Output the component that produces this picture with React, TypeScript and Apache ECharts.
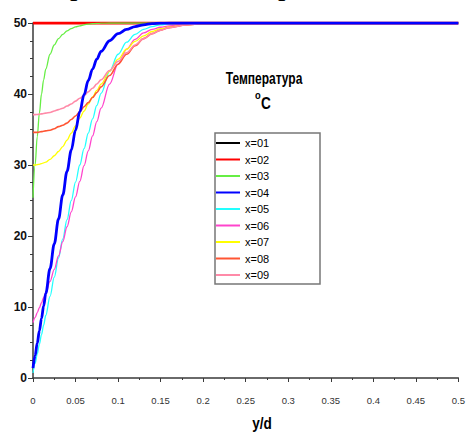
import React, { useEffect, useRef } from "react";
import * as echarts from "echarts";

// y/d positions (shared by the profile curves)
const yd = [0, 0.0025, 0.005, 0.0075, 0.01, 0.0125, 0.015, 0.02, 0.025, 0.03, 0.035, 0.04, 0.045, 0.05, 0.055, 0.06, 0.065, 0.07, 0.075, 0.08, 0.09, 0.1, 0.11, 0.12, 0.13, 0.14, 0.15, 0.16, 0.18, 0.2, 0.25, 0.3, 0.35, 0.4, 0.45, 0.5];
const flatYd = [0, 0.5];

const seriesNames = ["x=01", "x=02", "x=03", "x=04", "x=05", "x=06", "x=07", "x=08", "x=09"];

const x01 = [50, 50];
const x02 = [50, 50];
const x03 = [25.4, 30, 34, 37.3, 40, 42, 43.5, 45.6, 46.9, 47.8, 48.4, 48.9, 49.2, 49.45, 49.6, 49.75, 49.85, 49.9, 49.95, 49.97, 50, 50, 50, 50, 50, 50, 50, 50, 50, 50, 50, 50, 50, 50, 50, 50];
const x04 = [1.4, 3.15, 4.9, 6.65, 8.4, 10.15, 11.9, 15.4, 18.9, 22.4, 25.8, 29.1, 32.1, 34.9, 37.5, 39.9, 41.9, 43.5, 44.9, 46.0, 47.5, 48.5, 49.1, 49.5, 49.75, 49.9, 49.97, 50, 50, 50, 50, 50, 50, 50, 50, 50];
const x05 = [0.7, 2.05, 3.4, 4.75, 6.1, 7.45, 8.8, 11.5, 14.2, 16.9, 19.6, 22.3, 25.0, 27.6, 30.0, 32.3, 34.5, 36.5, 38.4, 40.1, 43.2, 45.6, 47.3, 48.4, 49.1, 49.5, 49.75, 49.9, 49.98, 50, 50, 50, 50, 50, 50, 50];
const x06 = [7.8, 8.5, 9.2, 9.9, 10.6, 11.3, 12.0, 13.6, 15.3, 17.2, 19.2, 21.3, 23.4, 25.5, 27.7, 29.9, 32.0, 34.1, 36.1, 38.0, 41.4, 44.2, 46.3, 47.7, 48.6, 49.1, 49.4, 49.6, 49.85, 49.95, 50, 50, 50, 50, 50, 50];
const x07 = [30.0, 30.0, 30.05, 30.1, 30.2, 30.3, 30.4, 30.8, 31.3, 31.9, 32.6, 33.5, 34.5, 35.5, 36.6, 37.6, 38.6, 39.6, 40.5, 41.4, 43.2, 44.9, 46.3, 47.4, 48.2, 48.8, 49.2, 49.45, 49.75, 49.93, 50, 50, 50, 50, 50, 50];
const x08 = [34.6, 34.6, 34.6, 34.65, 34.7, 34.75, 34.8, 34.9, 35.1, 35.4, 35.6, 35.9, 36.4, 36.9, 37.5, 38.2, 38.8, 39.5, 40.2, 41.0, 42.6, 44.2, 45.6, 46.8, 47.8, 48.5, 49.0, 49.35, 49.72, 49.92, 50, 50, 50, 50, 50, 50];
const x09 = [37.1, 37.1, 37.12, 37.15, 37.2, 37.25, 37.3, 37.4, 37.6, 37.8, 38.0, 38.3, 38.6, 39.0, 39.4, 39.8, 40.3, 40.8, 41.4, 42.0, 43.3, 44.6, 45.8, 46.9, 47.8, 48.5, 49.0, 49.35, 49.72, 49.92, 50, 50, 50, 50, 50, 50];

const seriesValues = [x01, x02, x03, x04, x05, x06, x07, x08, x09];
const colors = ["#000000", "#ff0000", "#66ee44", "#0000ff", "#22ffff", "#ff44cc", "#ffff00", "#ff5533", "#ff8aa8"];
const widths = [1.2, 3, 1.3, 2.8, 1.3, 1.3, 1.3, 1.6, 1.6];

const sans = "'Liberation Sans', Arial, sans-serif";

export default function App() {
  const ref = useRef<HTMLDivElement>(null);
  useEffect(() => {
    if (!ref.current) return;
    const chart = echarts.init(ref.current, null, { renderer: "svg" });
    const series = seriesValues.map((vals, i) => {
      const xs = vals.length === 2 ? flatYd : yd;
      return {
        name: seriesNames[i],
        type: "line",
        data: vals.map((v, k) => [xs[k], v]),
        symbol: "none",
        smooth: 0.35,
        smoothMonotone: "x",
        z: i === 3 ? 5 : 3,
        lineStyle: { color: colors[i], width: widths[i] },
        itemStyle: { color: colors[i] },
      };
    });
    chart.setOption({
      animation: false,
      backgroundColor: "#ffffff",
      color: colors,
      grid: { left: 33, right: 8, top: 23, bottom: 57 },
      xAxis: {
        type: "value",
        min: 0,
        max: 0.5,
        interval: 0.05,
        splitLine: { show: false },
        axisLine: { show: true, onZero: false, lineStyle: { color: "#3a3a3a", width: 1.5 } },
        axisTick: { show: true, inside: false, length: 4, lineStyle: { color: "#3a3a3a" } },
        minorTick: { show: true, splitNumber: 2, length: 2, lineStyle: { color: "#3a3a3a" } },
        axisLabel: { margin: 17, fontSize: 9.5, color: "#333", fontFamily: sans },
      },
      yAxis: {
        type: "value",
        min: 0,
        max: 50,
        interval: 10,
        splitLine: { show: false },
        axisLine: { show: true, lineStyle: { color: "#3a3a3a", width: 1.5 } },
        axisTick: { show: true, inside: false, length: 5, lineStyle: { color: "#3a3a3a" } },
        minorTick: { show: true, splitNumber: 4, length: 3, lineStyle: { color: "#3a3a3a" } },
        axisLabel: { margin: 6, fontSize: 12, fontWeight: "bold", color: "#111", fontFamily: sans },
      },
      legend: {
        orient: "vertical",
        left: 216,
        top: 137,
        padding: 0,
        icon: "rect",
        itemWidth: 24,
        itemHeight: 2,
        itemGap: 4.5,
        data: seriesNames,
        textStyle: { fontSize: 11, lineHeight: 12, color: "#000", fontFamily: sans },
      },
      graphic: [
        {
          type: "text",
          x: 70,
          y: -15.5,
          silent: true,
          style: { text: "р", fontSize: 30, fontFamily: "'Liberation Serif', serif", fill: "#000", align: "left", verticalAlign: "middle" },
        },
        {
          type: "text",
          x: 278,
          y: -15.5,
          silent: true,
          style: { text: "р", fontSize: 30, fontFamily: "'Liberation Serif', serif", fill: "#000", align: "left", verticalAlign: "middle" },
        },
        {
          type: "rect",
          z: -1,
          shape: { x: 215, y: 133, width: 105, height: 151 },
          style: { fill: "#ffffff", stroke: "#777", lineWidth: 1.5 },
        },
        {
          type: "text",
          x: 264,
          y: 78,
          scaleX: 0.75,
          style: { text: "Температура", fontSize: 16, fontWeight: "bold", fontFamily: sans, fill: "#000", align: "center", verticalAlign: "middle" },
        },
        {
          type: "text",
          x: 255,
          y: 95,
          scaleX: 0.85,
          style: { text: "o", fontSize: 11, fontWeight: "bold", fontFamily: sans, fill: "#000", align: "left", verticalAlign: "middle" },
        },
        {
          type: "text",
          x: 261,
          y: 104,
          scaleX: 0.85,
          style: { text: "C", fontSize: 16, fontWeight: "bold", fontFamily: sans, fill: "#000", align: "left", verticalAlign: "middle" },
        },
        {
          type: "text",
          x: 262,
          y: 424,
          scaleX: 0.85,
          style: { text: "y/d", fontSize: 16, fontWeight: "bold", fontFamily: sans, fill: "#000", align: "center", verticalAlign: "middle" },
        },
      ],
      series,
    });
    return () => chart.dispose();
  }, []);
  return <div ref={ref} style={{ position: "fixed", left: 0, top: 0, width: 468, height: 435, background: "#fff" }} />;
}
